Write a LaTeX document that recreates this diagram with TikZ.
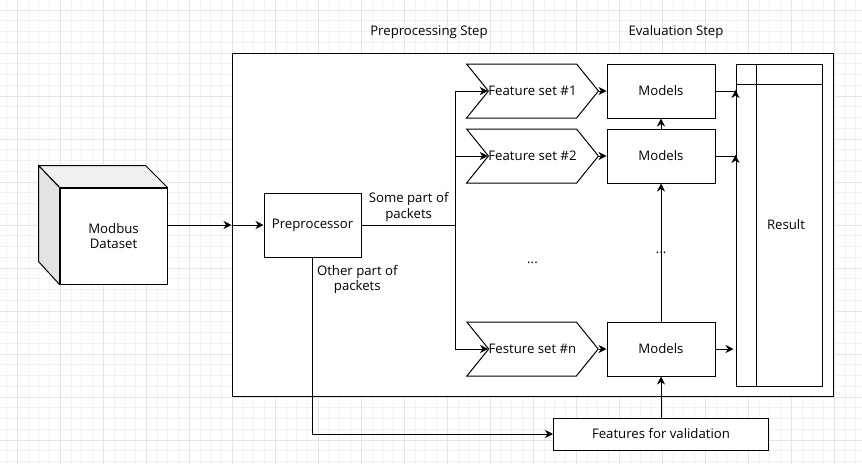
\documentclass[tikz,border=0pt]{standalone}
\usepackage{fontspec}
\setmainfont{Open Sans}
\usetikzlibrary{shapes.symbols, arrows.meta, positioning}
\tikzstyle{frame2} = [rectangle, minimum width=601pt, minimum height=343pt, draw=black, fill=white, line width=1pt]
\tikzstyle{process2} = [rectangle, minimum width=97pt, minimum height=64pt, align=center, draw=black, fill=white, line width=1pt]
\tikzstyle{model2} = [rectangle, minimum width=108pt, minimum height=54pt, align=center, draw=black, fill=white, line width=1pt]
\tikzstyle{featset2} = [signal, signal to=east, signal from=west, signal pointer angle=102, minimum width=129pt, minimum height=54pt, inner sep=0pt, draw=black, fill=white, line width=1pt]
\tikzstyle{label2} = [align=center, inner sep=0pt]
\tikzstyle{arrow2} = [line width=1pt, ->, >={Stealth[length=8pt, width=8pt, inset=2.5pt]}]

\begin{document}
\begin{tikzpicture}[x=1pt, y=-1pt, font=\fontsize{13.2}{15.5}\selectfont]
            \useasboundingbox (0,0) rectangle (862,464);

            % Background grid
            \begin{scope}
                \clip (0,0) rectangle (862,464);
                \foreach \i in {-1,...,80} \draw[black!5, line width=0.75pt] (17.25+10.75*\i,0) -- (17.25+10.75*\i,464);
                \foreach \i in {0,...,42} \draw[black!5, line width=0.75pt] (0,10+10.75*\i) -- (862,10+10.75*\i);
                \foreach \i in {0,...,19} \draw[black!10, line width=0.75pt] (17.25+43*\i,0) -- (17.25+43*\i,464);
                \foreach \i in {0,...,10} \draw[black!10, line width=0.75pt] (0,10+43*\i) -- (862,10+43*\i);
            \end{scope}

            % Place nodes
            \node (frame) [frame2] at (532.5,224.5) {};
            \node (prelbl) [label2] at (429,32) {Preprocessing Step};
            \node (evallbl) [label2] at (676,32) {Evaluation Step};
            \node (data) [process2, minimum width=107pt, minimum height=96pt] at (113.5,236) {Modbus\\Dataset};
            \node (prep) [process2] at (312.5,225) {Preprocessor};
            \node (f1) [featset2] at (532.5,91) {Feature set \#1};
            \node (f2) [featset2, below of=f1, node distance=65pt] {Feature set \#2};
            \node (fn) [featset2, below of=f2, node distance=193pt] {Festure set \#n};
            \node (m1) [model2, right of=f1, node distance=128.5pt] {Models};
            \node (m2) [model2, right of=f2, node distance=128.5pt] {Models};
            \node (m3) [model2, right of=fn, node distance=128.5pt] {Models};
            \node (val) [model2, minimum width=215pt, minimum height=32pt, below of=m3, node distance=85pt] {Features for validation};
            \node (res) [model2, minimum width=86pt, minimum height=322pt] at (779,225) {\kern14pt Result};
            \node (gap1) [label2, anchor=base] at (532.5,263) {...};
            \node (gap2) [label2, anchor=base] at (661,253) {...};
            \coordinate (split) at ([xshift=-32pt]prep.east -| f1.west);
            \coordinate (entry) at (frame.west |- prep.west);

            % Cube faces
            \filldraw [fill=black!6, line width=1pt, line join=round] (data.north west) -- ++(-21,-22) -- ++(107,0) -- (data.north east) -- cycle;
            \filldraw [fill=black!11, line width=1pt, line join=round] (data.north west) -- ++(-21,-22) -- ++(0,96) -- (data.south west) -- cycle;

            % Result table lines
            \draw [line width=1pt] ([yshift=-21pt]res.north west) -- ([yshift=-21pt]res.north east);
            \draw [line width=1pt] ([xshift=21pt]res.north west) -- ([xshift=21pt]res.south west);

            % Draw edges
            \draw [arrow2] (prep.west -| data.east) -- (entry);
            \draw [arrow2] (entry) -- (prep.west);
            \draw [arrow2] (prep.east) -- node[label2, above=3pt] {Some part of\\packets} (split) |- (f1.west);
            \draw [arrow2] (prep.east) -- (split) |- (f2.west);
            \draw [arrow2] (prep.east) -- (split) |- (fn.west);
            \draw [arrow2] (prep.south) |- node[label2, pos=0, anchor=north west, xshift=4pt, yshift=-7pt] {Other part of\\packets} (val.west);
            \draw [arrow2] (f1.east) -- (m1.west);
            \draw [arrow2] (f2.east) -- (m2.west);
            \draw [arrow2] (fn.east) -- (m3.west);
            \draw [arrow2] (m2.north) -- (m1.south);
            \draw [arrow2] (m3.north) -- (m2.south);
            \draw [arrow2] (val.north) -- (m3.south);
            \draw [arrow2] (m1.east) -| ([yshift=1pt]m1.east -| res.west);
            \draw [arrow2] (m2.east) -| ([yshift=1pt]m2.east -| res.west);
            \draw [arrow2, shorten >=2pt] (m3.east) -- (m3.east -| res.west);
        \end{tikzpicture}
\end{document}
